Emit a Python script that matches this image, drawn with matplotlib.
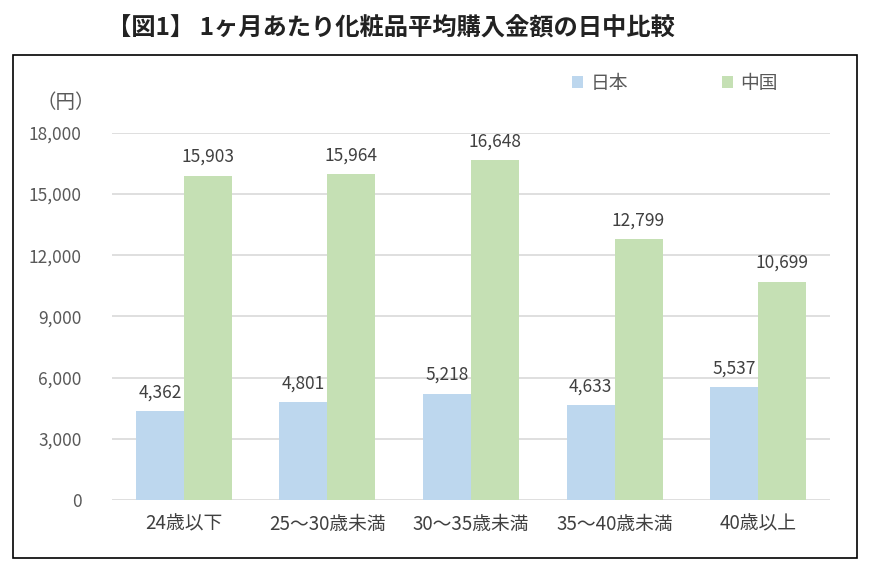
import numpy as np
import matplotlib
matplotlib.use('Agg')
import matplotlib.pyplot as plt
from matplotlib.patches import Rectangle

plt.rcParams['font.family'] = ['Noto Sans CJK JP', 'DejaVu Sans']

# データ
categories = ['24歳以下', '25～30歳未満', '30～35歳未満', '35～40歳未満', '40歳以上']
japan = [4362, 4801, 5218, 4633, 5537]
china = [15903, 15964, 16648, 12799, 10699]
yticks = [0, 3000, 6000, 9000, 12000, 15000, 18000]

c_jp = '#BDD7EE'
c_cn = '#C5E0B4'
txt = '#595959'

fig = plt.figure(figsize=(8.69, 5.63), dpi=100)
ax = fig.add_axes([0.129, 0.112, 0.826, 0.652])

x = np.arange(len(categories))
w = 0.334
b1 = ax.bar(x - w / 2, japan, w, color=c_jp, label='日本', zorder=2)
b2 = ax.bar(x + w / 2, china, w, color=c_cn, label='中国', zorder=2)

for bars, vals in [(b1, japan), (b2, china)]:
    for r, v in zip(bars, vals):
        ax.annotate(f'{v:,}', (r.get_x() + r.get_width() / 2, v),
                    xytext=(0, 7), textcoords='offset points',
                    ha='center', va='bottom', fontsize=12.5, color='#404040')

ax.set_xlim(-0.5, len(categories) - 0.5)
ax.set_ylim(0, 18000)
ax.set_yticks(yticks)
ax.set_yticklabels([f'{v:,}' for v in yticks], fontsize=12.5, color=txt)
ax.set_xticks(x)
ax.set_xticklabels(categories, fontsize=13.5, color='#404040')
ax.tick_params(length=0, axis='both')
ax.tick_params(axis='y', pad=22)
ax.tick_params(axis='x', pad=10)
ax.grid(axis='y', color='#D9D9D9', linewidth=1.2, zorder=0)
for s in ax.spines.values():
    s.set_visible(False)

ax.legend(loc='upper left', bbox_to_anchor=(0.617, 1.21), ncol=2, frameon=False,
          fontsize=13.5, handlelength=0.6, handleheight=0.6, columnspacing=5.0,
          handletextpad=0.4, labelcolor=txt)

fig.text(0.042, 0.818, '（円）', fontsize=14, color=txt, ha='left', va='center')
fig.text(0.45, 0.95, '【図1】 1ヶ月あたり化粧品平均購入金額の日中比較',
         fontsize=17.5, fontweight='bold', ha='center', va='center', color='#222222')

# 外枠
fig.patches.append(Rectangle((13 / 869, 1 - 558 / 563), (857 - 13) / 869, (558 - 55) / 563,
                             transform=fig.transFigure, fill=False, edgecolor='black',
                             linewidth=1.2))

plt.savefig('out.png', dpi=100)
